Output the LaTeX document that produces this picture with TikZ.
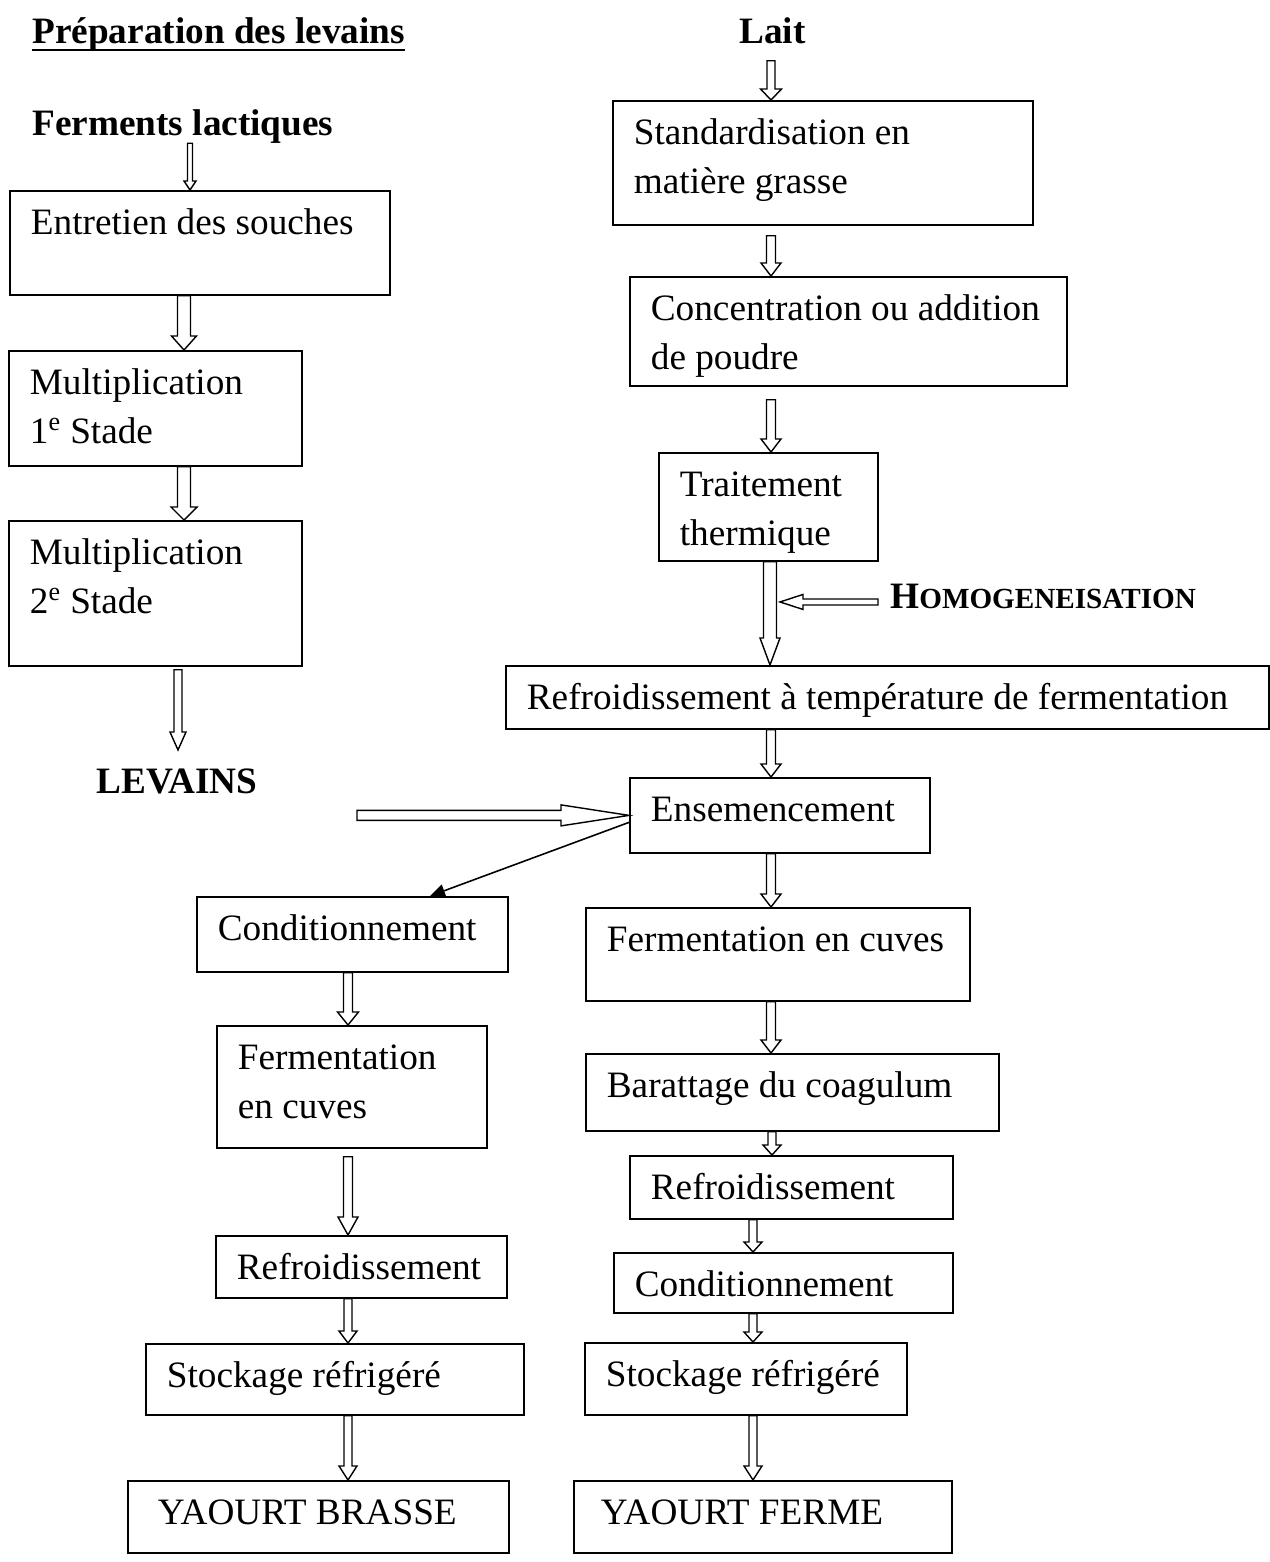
\documentclass[tikz,border=0pt]{standalone}
\usepackage{fontspec}
\setmainfont{Liberation Serif}
\usetikzlibrary{calc,arrows.meta}

\newdimen\px \px=0.02cm
% boite : nom, x, y (coin haut gauche), largeur, hauteur, texte
\newcommand{\boite}[6]{%
  \pgfmathsetlengthmacro\largeur{#4*0.02cm}%
  \pgfmathsetlengthmacro\profondeur{(#5-44)*0.02cm}%
  \node[etape, text depth=\profondeur] (#1) at (#2,#3)
    {\makebox[\largeur][l]{\hspace{21\px}\begin{tabular}[t]{@{}l@{}}#6\end{tabular}}};}
% fleche creuse : depart, arrivee, demi-corps, demi-pointe, longueur pointe
\newcommand{\fleche}[5]{%
  \coordinate (fa) at #1;
  \coordinate (fb) at #2;
  \coordinate (fh) at ($(fb)!#5*0.02cm!(fa)$);
  \draw[creuse] ($(fa)!#3*0.02cm!90:(fb)$) -- ($(fh)!#3*0.02cm!90:(fb)$)
    -- ($(fh)!#4*0.02cm!90:(fb)$) -- (fb) -- ($(fh)!#4*0.02cm!-90:(fb)$)
    -- ($(fh)!#3*0.02cm!-90:(fb)$) -- ($(fa)!#3*0.02cm!-90:(fb)$) -- cycle;}

\begin{document}
\begin{tikzpicture}[x=0.02cm, y=-0.02cm]
            \tikzset{etape/.style={draw, line width=1pt, anchor=north west, inner sep=0pt,
                text height=0.88cm, font=\fontsize{21.2}{27.9}\selectfont}}
            \tikzset{titre/.style={anchor=base west, inner sep=0pt,
                font=\fontsize{21.2}{27.9}\selectfont\bfseries}}
            \tikzset{creuse/.style={draw, line width=0.8pt, fill=white, line join=miter}}
            \tikzset{lien/.style={line width=0.9pt, -{Triangle[length=0.3cm, width=0.26cm]}}}
            \useasboundingbox (0,0) rectangle (1270,1562);

            % preparation des levains
            \node[titre] (prep) at (32,43) {Préparation des levains};
            \draw[line width=1.6pt] ($(prep.base west)+(0,7)$) -- ($(prep.base east)+(0,7)$);
            \node[titre] (ferments) at (32,135) {Ferments lactiques};
            \boite{entretien}{9}{190}{380}{104}{Entretien des souches}
            \boite{mult1}{8}{350}{293}{115}{Multiplication\\1\textsuperscript{e} Stade}
            \boite{mult2}{8}{520}{293}{145}{Multiplication\\2\textsuperscript{e} Stade}
            \node[titre] (levains) at (96,793) {LEVAINS};

            % lait
            \node[titre] (lait) at (739,43) {Lait};
            \boite{standard}{612}{100}{420}{124}{Standardisation en\\matière grasse}
            \boite{concentr}{629}{276}{437}{109}{Concentration ou addition\\de poudre}
            \boite{traitement}{658}{452}{219}{108}{Traitement\\thermique}
            \node[titre] (homog) at (890,608) {H{\fontsize{16.6}{16.6}\selectfont OMOGENEISATION}};
            \boite{refrtemp}{505}{665}{763}{63}{Refroidissement à température de fermentation}
            \boite{ensemenc}{629}{777}{300}{75}{Ensemencement}

            % yaourt ferme
            \boite{fermR}{585}{907}{384}{93}{Fermentation en cuves}
            \boite{barattage}{585}{1053}{413}{77}{Barattage du coagulum}
            \boite{refrR}{629}{1155}{323}{63}{Refroidissement}
            \boite{condR}{613}{1252}{339}{60}{Conditionnement}
            \boite{stockR}{584}{1342}{322}{72}{Stockage réfrigéré}
            \boite{ferme}{573}{1480}{378}{72}{\hspace{6\px}YAOURT FERME}

            % yaourt brasse
            \boite{condL}{196}{896}{311}{75}{Conditionnement}
            \boite{fermL}{216}{1025}{270}{122}{Fermentation\\en cuves}
            \boite{refrL}{215}{1235}{291}{62}{Refroidissement}
            \boite{stockL}{145}{1343}{378}{71}{Stockage réfrigéré}
            \boite{brasse}{127}{1480}{381}{72}{\hspace{9\px}YAOURT BRASSE}

            \fleche{(190,0 |- ferments.south)}{(190,0 |- entretien.north)}{2.5}{6}{9}
            \fleche{(184,0 |- entretien.south)}{(184,0 |- mult1.north)}{6.5}{12.5}{14}
            \fleche{(184,0 |- mult1.south)}{(184,0 |- mult2.north)}{6.5}{13}{13}
            \fleche{($(178,0 |- mult2.south)+(0,3)$)}{($(178,0 |- levains.north)+(0,-18)$)}{4}{8}{18}

            \fleche{($(771,0 |- lait.south)+(0,17)$)}{(771,0 |- standard.north)}{4}{10.5}{11}
            \fleche{($(771,0 |- standard.south)+(0,10)$)}{(771,0 |- concentr.north)}{4.5}{10}{13}
            \fleche{($(771,0 |- concentr.south)+(0,13)$)}{(771,0 |- traitement.north)}{4.5}{10}{13}
            \fleche{(770,0 |- traitement.south)}{(770,0 |- refrtemp.north)}{6.5}{10}{27}
            \fleche{($(homog.west)+(-12,6)$)}{($(780,0 |- homog.west)+(0,6)$)}{3}{7.5}{23}
            \fleche{(771,0 |- refrtemp.south)}{(771,0 |- ensemenc.north)}{4.5}{10}{13}
            \fleche{(357,0 |- ensemenc.west)}{(ensemenc.west)}{5}{10.5}{68}
            \draw[lien] ($(ensemenc.west)+(0,7)$) -- (430,0 |- condL.north);

            \fleche{(771,0 |- ensemenc.south)}{(771,0 |- fermR.north)}{4.5}{10}{13}
            \fleche{(771,0 |- fermR.south)}{(771,0 |- barattage.north)}{4.5}{10}{13}
            \fleche{(772,0 |- barattage.south)}{(772,0 |- refrR.north)}{4}{9}{10}
            \fleche{(753,0 |- refrR.south)}{(753,0 |- condR.north)}{4}{9}{10}
            \fleche{(753,0 |- condR.south)}{(753,0 |- stockR.north)}{4}{9}{10}
            \fleche{(753,0 |- stockR.south)}{(753,0 |- ferme.north)}{4}{9}{14}

            \fleche{(348,0 |- condL.south)}{(348,0 |- fermL.north)}{4.5}{10.5}{13}
            \fleche{($(348,0 |- fermL.south)+(0,8)$)}{(348,0 |- refrL.north)}{4.5}{10}{18}
            \fleche{(348,0 |- refrL.south)}{(348,0 |- stockL.north)}{4}{9}{12}
            \fleche{(348,0 |- stockL.south)}{(348,0 |- brasse.north)}{4}{9}{14}
\end{tikzpicture}
\end{document}
